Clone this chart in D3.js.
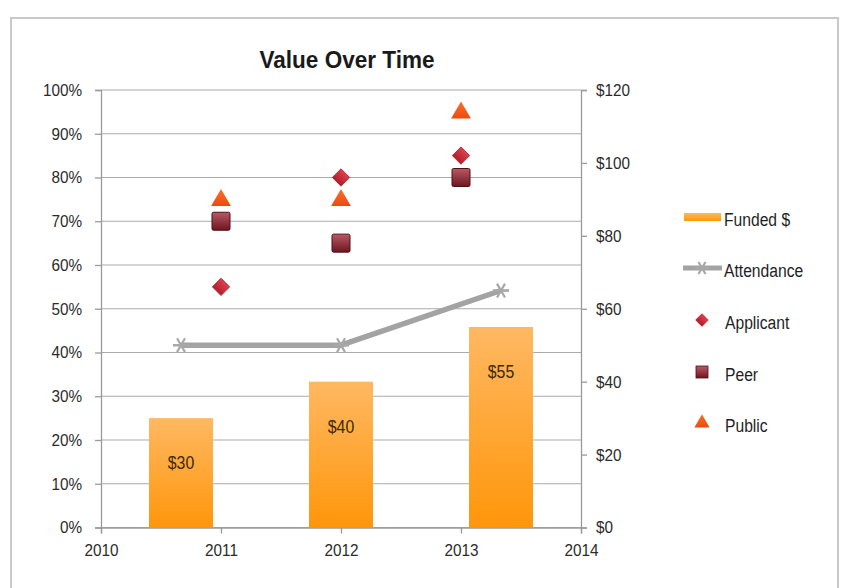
<!DOCTYPE html>
<html>
<head>
<meta charset="utf-8">
<script src="https://cdn.jsdelivr.net/npm/d3@7"></script>
<style>
  html, body { margin: 0; padding: 0; background: #fff; }
  svg text { font-family: "Liberation Sans", Arial, sans-serif; }
</style>
</head>
<body>
<svg id="chart" width="851" height="588"></svg>
<script>
// ---- data ----
const title = "Value Over Time";
const barCategories = ["2011", "2012", "2013"];
const fundedValues = [30, 40, 55];              // $ (right axis)
const attendanceValues = [50, 50, 65];          // $ scale (right axis)
const markerYears = [2011, 2012, 2013];
const applicantValues = [0.55, 0.80, 0.85];     // left axis
const peerValues = [0.70, 0.65, 0.80];
const publicValues = [0.75, 0.75, 0.95];
const leftTicks = [0, 0.1, 0.2, 0.3, 0.4, 0.5, 0.6, 0.7, 0.8, 0.9, 1.0];
const rightTicks = [0, 20, 40, 60, 80, 100, 120];
const xTicks = [2010, 2011, 2012, 2013, 2014];
const legendLabels = ["Funded $", "Attendance", "Applicant", "Peer", "Public"];

// ---- layout ----
const svg = d3.select("#chart");
const plot = { left: 101, right: 581, top: 90, bottom: 527.5 };

function condense(sx) {
  return sel => sel.each(function () {
    const t = d3.select(this);
    const x = +(t.attr("x") || 0);
    t.attr("x", x / sx).attr("transform", `scale(${sx},1)`);
  });
}

// frame
svg.append("rect").attr("x", 11).attr("y", 18).attr("width", 827).attr("height", 590)
  .attr("fill", "#fff").attr("stroke", "#c9c9c9").attr("stroke-width", 2);

const yL = d3.scaleLinear().domain([0, 1]).range([plot.bottom, plot.top]);
const yR = d3.scaleLinear().domain([0, 120]).range([plot.bottom, plot.top]);
const xV = d3.scaleLinear().domain([2010, 2014]).range([plot.left, plot.right]);
const xB = d3.scaleBand().domain(barCategories).range([plot.left, plot.right]).padding(0);

const defs = svg.append("defs");
const grad = defs.append("linearGradient").attr("id", "barGrad").attr("x1", 0).attr("y1", 0).attr("x2", 0).attr("y2", 1);
grad.append("stop").attr("offset", "0%").attr("stop-color", "#ffb862");
grad.append("stop").attr("offset", "100%").attr("stop-color", "#ff960a");
const dGrad = defs.append("linearGradient").attr("id", "diaGrad").attr("x1", 0).attr("y1", 0).attr("x2", 0).attr("y2", 1);
dGrad.append("stop").attr("offset", "0%").attr("stop-color", "#e0404c");
dGrad.append("stop").attr("offset", "100%").attr("stop-color", "#b01e2c");
const sGrad = defs.append("linearGradient").attr("id", "sqGrad").attr("x1", 0).attr("y1", 0).attr("x2", 0).attr("y2", 1);
sGrad.append("stop").attr("offset", "0%").attr("stop-color", "#b85a64");
sGrad.append("stop").attr("offset", "100%").attr("stop-color", "#6e1520");
const tGrad = defs.append("linearGradient").attr("id", "triGrad").attr("x1", 0).attr("y1", 0).attr("x2", 0).attr("y2", 1);
tGrad.append("stop").attr("offset", "0%").attr("stop-color", "#f7702a");
tGrad.append("stop").attr("offset", "100%").attr("stop-color", "#ee4a10");

// gridlines
svg.append("g").selectAll("line").data(leftTicks).join("line")
  .attr("x1", plot.left).attr("x2", plot.right)
  .attr("y1", d => yL(d)).attr("y2", d => yL(d))
  .attr("stroke", "#ababab").attr("stroke-width", 1.2);

// axes
const gL = svg.append("g").attr("transform", `translate(${plot.left},0)`)
  .call(d3.axisLeft(yL).tickValues(leftTicks).tickFormat(d3.format(".0%")).tickSize(6).tickPadding(13));
const gR = svg.append("g").attr("transform", `translate(${plot.right},0)`)
  .call(d3.axisRight(yR).tickValues(rightTicks).tickFormat(d => "$" + d).tickSize(6).tickPadding(9));
const gB = svg.append("g").attr("transform", `translate(0,${plot.bottom})`)
  .call(d3.axisBottom(xV).tickValues(xTicks).tickFormat(d3.format("d")).tickSize(6).tickPadding(10));
[gL, gR, gB].forEach(g => {
  g.select(".domain").attr("stroke", "#9a9a9a").attr("stroke-width", 1.3);
  g.selectAll(".tick line").attr("stroke", "#9a9a9a").attr("stroke-width", 1.3);
  g.selectAll(".tick text").attr("fill", "#2b2b2b").attr("font-size", 17).call(condense(0.9));
});

// bars
const barW = xB.bandwidth() * 0.4;
svg.append("g").selectAll("rect").data(fundedValues).join("rect")
  .attr("x", (d, i) => xB(barCategories[i]) + xB.bandwidth() / 2 - barW / 2)
  .attr("y", d => yR(d))
  .attr("width", barW)
  .attr("height", d => plot.bottom - yR(d))
  .attr("fill", "url(#barGrad)");
svg.append("g").selectAll("text").data(fundedValues).join("text")
  .attr("x", (d, i) => xB(barCategories[i]) + xB.bandwidth() / 2)
  .attr("y", d => yR(d) + 51)
  .attr("text-anchor", "middle")
  .attr("font-size", 18).attr("fill", "#3a2808")
  .text(d => "$" + d)
  .call(condense(0.88));

// attendance line
const attPts = attendanceValues.map((v, i) => [xB(barCategories[i]) + xB.bandwidth() / 2, yR(v)]);
svg.append("path").attr("d", d3.line()(attPts))
  .attr("fill", "none").attr("stroke", "#a3a3a3").attr("stroke-width", 5.5)
  .attr("stroke-linejoin", "round");
function star(g, x, y, r) {
  const s = g.append("g").attr("transform", `translate(${x},${y})`);
  [0, 60, 120].forEach(a => {
    const rad = a * Math.PI / 180;
    s.append("line").attr("x1", -r * Math.cos(rad)).attr("y1", -r * Math.sin(rad))
      .attr("x2", r * Math.cos(rad)).attr("y2", r * Math.sin(rad))
      .attr("stroke", "#a8a8a8").attr("stroke-width", 2.2);
  });
  s.append("line").attr("x1", -r).attr("x2", r).attr("y1", 0).attr("y2", 0).attr("stroke", "#a8a8a8").attr("stroke-width", 2.2);
}
const gStar = svg.append("g");
attPts.forEach(p => star(gStar, p[0], p[1], 8));

// markers
const gMarks = svg.append("g");
gMarks.selectAll("path.app").data(applicantValues).join("path").attr("class", "app")
  .attr("d", d3.symbol().type(d3.symbolSquare).size(150)())
  .attr("transform", (d, i) => `translate(${xV(markerYears[i])},${yL(d)}) rotate(45)`)
  .attr("fill", "url(#diaGrad)").attr("stroke", "#a8202c").attr("stroke-width", 0.8);
gMarks.selectAll("rect.peer").data(peerValues).join("rect").attr("class", "peer")
  .attr("x", (d, i) => xV(markerYears[i]) - 9).attr("y", d => yL(d) - 9)
  .attr("width", 18).attr("height", 18).attr("rx", 1.5)
  .attr("fill", "url(#sqGrad)").attr("stroke", "#4e0e16").attr("stroke-width", 1);
gMarks.selectAll("path.pub").data(publicValues).join("path").attr("class", "pub")
  .attr("d", d3.symbol().type(d3.symbolTriangle).size(170)())
  .attr("transform", (d, i) => `translate(${xV(markerYears[i])},${yL(d) + 1})`)
  .attr("fill", "url(#triGrad)");

// title
svg.append("text").attr("x", 347).attr("y", 68).attr("text-anchor", "middle")
  .attr("font-size", 23).attr("font-weight", "bold").attr("fill", "#1a1a1a").text(title)
  .call(condense(0.98));

// legend
const lg = svg.append("g");
const legY = [217, 268, 320, 372, 423];
const textX = 724;
lg.append("rect").attr("x", 684).attr("y", legY[0] - 4).attr("width", 37).attr("height", 8).attr("fill", "url(#barGrad)");
lg.append("line").attr("x1", 683).attr("x2", 722).attr("y1", legY[1]).attr("y2", legY[1])
  .attr("stroke", "#a3a3a3").attr("stroke-width", 5);
star(lg, 702, legY[1], 7);
lg.append("path").attr("d", d3.symbol().type(d3.symbolSquare).size(90)())
  .attr("transform", `translate(702,${legY[2]}) rotate(45)`).attr("fill", "url(#diaGrad)");
lg.append("rect").attr("x", 696).attr("y", legY[3] - 6).attr("width", 12).attr("height", 12)
  .attr("fill", "url(#sqGrad)").attr("stroke", "#4e0e16").attr("stroke-width", 0.8);
lg.append("path").attr("d", d3.symbol().type(d3.symbolTriangle).size(100)())
  .attr("transform", `translate(702,${legY[4]})`).attr("fill", "url(#triGrad)");
lg.selectAll("text").data(legendLabels).join("text")
  .attr("x", (d, i) => i < 2 ? textX : textX + 1)
  .attr("y", (d, i) => legY[i] + 3)
  .attr("dy", "0.32em")
  .attr("font-size", 18).attr("fill", "#1f1f1f")
  .text(d => d)
  .call(condense(0.87));
</script>
</body>
</html>
